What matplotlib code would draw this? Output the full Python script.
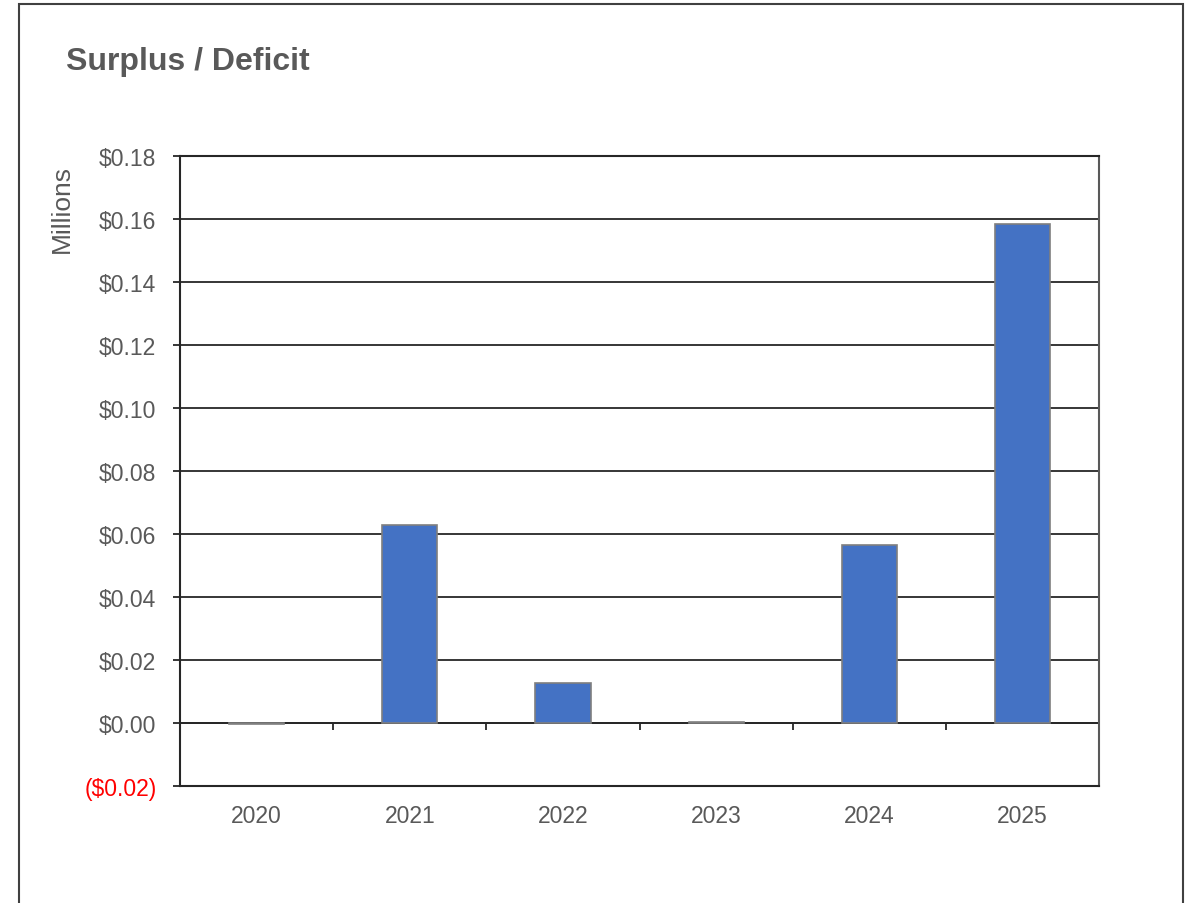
import matplotlib
matplotlib.use('Agg')
import matplotlib.pyplot as plt
from matplotlib.patches import Rectangle
from matplotlib.ticker import FuncFormatter

# chart data (millions)
years = ['2020', '2021', '2022', '2023', '2024', '2025']
surplus = [-0.0002, 0.0629, 0.0127, 0.0004, 0.0565, 0.1584]
y_ticks = [-0.02, 0.0, 0.02, 0.04, 0.06, 0.08, 0.10, 0.12, 0.14, 0.16, 0.18]

txt_grey = '#595959'
plt.rcParams['font.family'] = ['Liberation Sans', 'DejaVu Sans']

fig = plt.figure(figsize=(11.86, 9.04), dpi=100)
# outer chart border
fig.patches.append(Rectangle((19/1186, -0.01), (1183-19)/1186, 1.01 - 5/904,
                             transform=fig.transFigure, fill=False,
                             edgecolor='#404040', linewidth=1.5))

ax = fig.add_axes([0.1518, 0.1294, 0.7749, 0.6969])
xs = range(len(years))
ax.bar(xs, surplus, width=0.36, color='#4472C4', edgecolor='#7f7f7f',
       linewidth=1.2, zorder=3)

ax.set_xlim(-0.5, len(years) - 0.5)
ax.set_ylim(-0.02, 0.18)
ax.set_yticks(y_ticks)

def money(v, pos):
    if v < -1e-9:
        return '(${:.2f})'.format(-v)
    return '${:.2f}'.format(abs(v))
ax.yaxis.set_major_formatter(FuncFormatter(money))
ax.grid(axis='y', color='#262626', linewidth=1.3, zorder=1)
ax.set_axisbelow(True)

ax.set_xticks(list(xs))
ax.set_xticklabels(years)
ax.tick_params(axis='x', length=0, pad=13, labelsize=16.5, labelcolor=txt_grey)
ax.tick_params(axis='y', length=5, width=1.3, color='#262626', pad=12,
               labelsize=16.5, labelcolor=txt_grey)
for lab, v in zip(ax.get_yticklabels(), y_ticks):
    if v < 0:
        lab.set_color('red')

for side in ['left', 'bottom', 'top']:
    ax.spines[side].set_color('#262626')
    ax.spines[side].set_linewidth(1.5)
ax.spines['right'].set_color('#595959')
ax.spines['right'].set_linewidth(1.5)

# category axis line with tick marks at zero
zero_pos = (0 - (-0.02)) / 0.2
sec = ax.secondary_xaxis(zero_pos)
sec.set_xticks([k + 0.5 for k in range(len(years))])
sec.set_xticklabels([])
sec.xaxis.set_ticks_position('bottom')
sec.tick_params(axis='x', direction='out', length=5, width=1.3,
                color='#262626', labelbottom=False, labeltop=False,
                bottom=True, top=False)
sec.spines['bottom'].set_color('#262626')
sec.spines['bottom'].set_linewidth(1.3)
for side in ['top', 'left', 'right']:
    sec.spines[side].set_visible(False)

ax.set_ylabel('Millions', fontsize=19, color=txt_grey)
ax.yaxis.set_label_coords(-0.116, 0.917)

fig.text(66/1186, 1 - 62/904, 'Surplus / Deficit', fontsize=23,
         fontweight='bold', color=txt_grey, va='center', ha='left')

fig.savefig('out.png', dpi=100)
